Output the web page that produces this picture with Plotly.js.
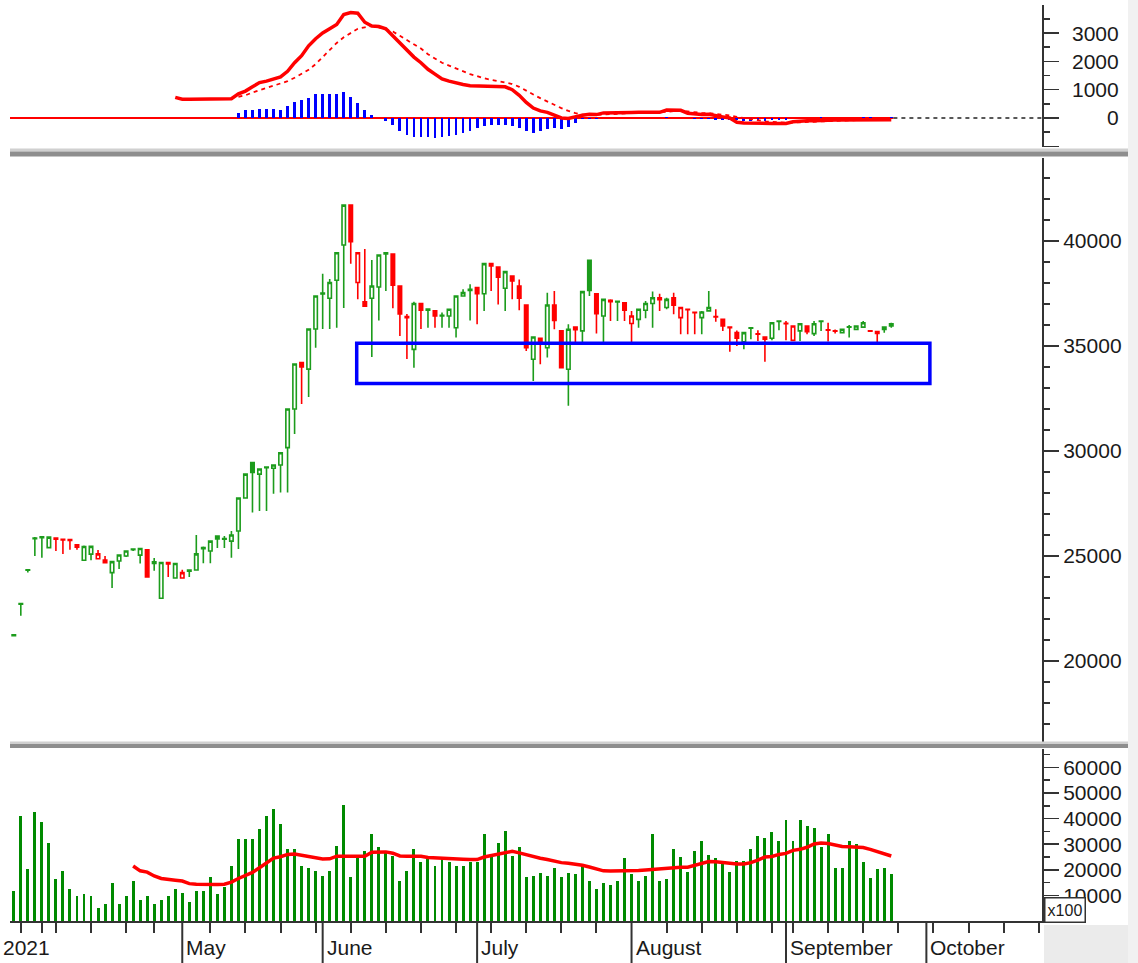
<!DOCTYPE html>
<html><head><meta charset="utf-8">
<script src="https://cdn.plot.ly/plotly-3.0.1.min.js"></script>
<style>html,body{margin:0;padding:0;background:#fff;}#chart{width:1138px;height:963px;}</style>
</head><body><div id="chart"></div>
<script>
// ---- data (trading-day index 0 = first session shown, late March 2021) ----
const openP  = [21200,22700,24320,25820,25920,25400,25850,25800,25780,25530,24800,25090,24870,24810,24210,24760,25000,25300,25040,25290,24720,22990,24690,23950,23950,24280,24330,25350,25240,25950,25800,25710,26190,27760,29450,28900,29200,29180,29330,30160,32000,34210,33900,35810,37480,37270,38130,39810,41710,38020,37110,37270,37810,39440,39380,37860,36400,34840,37020,36700,36670,36430,36430,35870,37380,37650,37780,37490,38920,38760,37750,38330,37860,36950,34370,35370,34920,36950,35720,33890,35900,35720,39080,37490,36430,37180,37100,37060,36070,36270,36700,37020,37300,36830,37300,36350,36750,36600,36350,36670,36400,36270,35900,35635,35200,35850,35580,35430,35370,36170,36080,35270,35720,35950,35590,36170,35770,35720,35630,35890,35790,35900,35720,35690,35900,36060];
const highP  = [21250,22730,24340,25900,25920,25900,25850,25800,25790,25530,25500,25460,25290,25000,24730,25050,25240,25350,25380,25290,24900,24690,24690,24640,24350,24330,26000,25450,25710,25950,25950,26190,27760,28900,29450,29140,29240,29330,29920,32000,34140,34210,35810,37380,38440,38190,39440,41710,41710,39440,39620,39090,39330,39440,39380,37860,36520,37110,37020,36760,36670,36590,36750,37380,37700,37940,37780,38920,38920,38760,38540,38330,38170,36950,35430,35370,37540,37620,35720,36030,35900,37590,39080,37490,37220,37220,37130,37060,36670,36750,37140,37590,37490,37300,37540,36830,36750,36600,36670,37620,36750,36270,35900,35740,35635,35870,35750,35430,36110,36190,36190,35950,36060,35950,36190,36190,36110,35790,35790,36000,35950,36190,35720,35720,35900,36110];
const lowP   = [21200,22150,24210,25000,24920,25400,25240,25100,25300,25300,24800,24800,24870,24680,23480,24380,24950,25240,24640,24000,24300,22990,24000,23950,23950,24000,24330,24650,24650,25380,25380,24920,25330,27760,27070,27140,27140,27960,28020,28020,30810,32240,32570,34920,35810,35810,35870,36810,38920,37220,36900,34480,36220,37620,36800,35480,34380,33970,35810,35870,35870,35870,35870,35400,37380,36220,36030,36670,37620,36980,36670,37220,36700,34760,33330,34130,34450,35800,33970,32150,35080,35160,37380,35590,35160,36190,36190,36190,35160,35870,36320,35870,36670,36750,36510,35560,35560,35560,35560,36670,36160,35720,34730,35000,34840,35320,35240,34255,35270,35750,35270,35270,35240,35560,35480,35720,35210,35590,35630,35400,35790,35900,35680,35160,35630,35870];
const closeP = [21250,22730,24340,25850,25870,25900,25800,25760,25740,25420,25450,25460,25100,24680,24730,25050,25240,25330,25360,24000,24650,24690,24620,24640,24210,24330,25100,25400,25710,25810,25830,26000,27760,28900,28980,29140,29240,29330,29920,32000,34140,34000,35810,37380,37520,38020,39440,41710,39970,39440,36900,37860,39330,39380,37900,36520,36350,37020,36710,36760,36430,36460,36750,37380,37540,37700,37490,38920,38810,38280,38540,38100,37270,34920,35430,35160,36950,36220,33970,35800,35780,37590,37650,36540,37220,37110,37130,36700,36430,36750,37020,37300,37200,37220,36940,36830,36730,36590,36620,36830,36380,35950,35870,35370,35635,35870,35560,35320,36110,36190,36060,35950,36060,35680,36060,36190,35750,35700,35790,35910,35950,36110,35700,35600,35790,35950];
// volume, shown in units of 100 shares
const volume = [11770,40890,20260,42410,38610,30380,16460,19370,12660,9750,10380,9750,5060,6710,14810,6710,9750,15570,8230,9750,6710,8230,9750,12660,11010,7340,11770,11770,17090,10380,13290,21520,32030,32030,32030,35830,40890,43680,37980,28230,28230,21520,20890,19370,17720,19370,29120,45320,17090,24690,27470,34180,28740,27470,25320,15570,19370,28230,23170,24050,21520,24050,23170,21520,21520,23170,23170,34180,25950,30380,35070,25320,28740,17090,17720,18610,17720,20890,17090,18610,18480,21400,15450,12530,14690,14180,15450,24560,18480,15450,17600,34060,15450,16330,28110,25190,19240,27350,31140,25830,24560,22280,19240,23550,23550,28110,33170,32410,34940,31140,39370,31140,39370,37220,36210,28990,34060,20760,20760,31140,30260,23040,16960,20130,20760,18480];
const N = null;
const volumeMA = [N,N,N,N,N,N,N,N,N,N,N,N,N,N,N,N,N,21500,19600,19100,17600,16600,16100,15900,15600,14600,14400,14300,14300,14300,14400,15200,16600,17800,19000,20800,22500,24600,25100,26000,26200,25700,25400,24800,24200,24300,25300,25300,25300,25300,25300,26900,27000,27000,26500,25400,25300,25300,25300,24800,24600,24500,24400,24200,24100,24000,24000,25000,25500,26100,26800,27200,26600,25800,25200,24500,24000,23400,22800,22600,22300,21800,21100,20300,19600,19500,19500,19500,19500,19700,19900,20100,20500,20800,21000,21000,21000,21700,22500,23200,23100,22800,22400,22300,22300,22800,23800,25000,25200,26000,26400,27600,28000,28800,30100,30500,30300,29600,29100,29000,29000,28700,28000,27100,26400,25400];
const macd = [N,N,N,N,N,N,N,N,N,N,N,N,N,N,N,N,N,N,N,N,N,N,N,730,660,660,660,660,660,660,660,680,850,950,1100,1250,1300,1380,1450,1650,1950,2200,2550,2800,3000,3150,3300,3650,3720,3700,3380,3250,3230,3150,2900,2660,2400,2150,1950,1720,1550,1380,1300,1230,1180,1140,1130,1130,1130,1130,1100,1000,800,550,350,250,200,100,0,-20,50,100,130,120,180,190,190,195,195,200,200,200,200,280,280,270,170,130,120,130,100,40,0,-150,-180,-190,-190,-190,-190,-190,-190,-130,-100,-100,-100,-80,-80,-75,-75,-70,-70,-65,-70,-70,-65,-60];
const signal = [N,N,N,N,N,N,N,N,N,N,N,N,N,N,N,N,N,N,N,N,N,N,N,N,N,N,N,N,N,N,N,N,750,800,900,980,1050,1120,1200,1300,1420,1560,1700,1900,2150,2400,2650,2850,3000,3150,3200,3250,3200,3120,3050,2900,2750,2600,2450,2250,2100,1950,1850,1750,1650,1550,1480,1400,1350,1300,1250,1200,1100,950,830,700,580,450,350,250,170,120,110,110,120,140,160,170,180,185,190,190,200,220,240,250,230,200,180,170,150,120,90,40,0,-50,-90,-120,-140,-160,-170,-160,-150,-130,-120,-100,-95,-90,-85,-80,-75,-72,-70,-68,-66,-64];
const histogram = [N,N,N,N,N,N,N,N,N,N,N,N,N,N,N,N,N,N,N,N,N,N,N,N,N,N,N,N,N,N,N,N,170,300,300,330,330,330,280,420,575,635,700,835,835,835,835,920,750,540,280,100,0,-100,-250,-450,-600,-660,-660,-660,-720,-660,-640,-600,-520,-450,-360,-290,-250,-250,-250,-290,-360,-450,-530,-470,-390,-360,-400,-330,-170,-50,-40,-40,0,0,0,0,0,0,0,0,0,40,0,0,0,-40,-50,-50,-60,-70,-70,-80,-100,-100,-100,-100,-80,-80,-60,0,0,0,0,40,0,0,0,0,0,40,40,0,0,40];
const monthLabels = ['May','June','July','August','September','October'];
const monthStarts = [24,44,66,88,110,130];
const weekTicks = [1,4,6,11,16,20,28,33,38,43,48,53,58,63,68,73,78,83,93,98,103,108,111,116,121,126,131,136,141,146];
const macdTickLabels = [0,1000,2000,3000];

// ---- build ----
const days = closeP.map((_, i) => i);
const upIdx = [], dnIdx = [];
closeP.forEach((c, i) => { (i === 0 || c >= closeP[i-1]) ? upIdx.push(i) : dnIdx.push(i); });
const pick = (a, idx) => idx.map(i => a[i]);

const GREEN = '#1c9c1c', RED = '#ff0000', VOLG = '#008a00';
const FONT = 'Liberation Sans, Arial, sans-serif';
function candle(idx, col) {
  return {type:'candlestick', xaxis:'x', yaxis:'y2',
    x: pick(days, idx), open: pick(openP, idx), high: pick(highP, idx), low: pick(lowP, idx), close: pick(closeP, idx),
    increasing:{line:{color:col, width:1.6}, fillcolor:'#ffffff'},
    decreasing:{line:{color:col, width:1.6}, fillcolor:col},
    whiskerwidth:0, hoverinfo:'skip', showlegend:false};
}
const traces = [
  {type:'bar', x:days, y:histogram, xaxis:'x', yaxis:'y', marker:{color:'#0000ff'}, width:0.4, hoverinfo:'skip', showlegend:false},
  {type:'scatter', mode:'lines', x:days, y:signal, xaxis:'x', yaxis:'y', line:{color:RED, width:1.8, dash:'4px,4px'}, hoverinfo:'skip', showlegend:false},
  {type:'scatter', mode:'lines', x:days, y:macd, xaxis:'x', yaxis:'y', line:{color:RED, width:3.5}, hoverinfo:'skip', showlegend:false},
  candle(upIdx, GREEN),
  candle(dnIdx, RED),
  {type:'bar', x:days, y:volume, xaxis:'x', yaxis:'y3', marker:{color:VOLG}, width:0.42, hoverinfo:'skip', showlegend:false},
  {type:'scatter', mode:'lines', x:days, y:volumeMA, xaxis:'x', yaxis:'y3', line:{color:RED, width:3.5}, hoverinfo:'skip', showlegend:false}
];

const H = 921; // plot height in px (t=0)
const py = p => (H - p) / H;           // pixel row -> paper y
const px = p => (p - 10) / 1032;       // pixel col -> paper x
const XMIN = -0.54, XMAX = 146.47;
const axCol = '#333333', txtCol = '#1a1a1a';
const yBase = {side:'right', anchor:'x', showline:true, linecolor:axCol, linewidth:2, ticks:'outside', ticklen:15, tickwidth:1.6, tickcolor:axCol,
  showgrid:false, zeroline:false, fixedrange:true, tickfont:{family:FONT, size:21, color:txtCol}};

const shapes = [];
// separators between panels
[[148.5,151.5,'#d0d0d0'],[151.5,156.5,'#8e8e8e'],[741.5,744,'#d0d0d0'],[744,748,'#8e8e8e']].forEach(s => {
  shapes.push({type:'rect', xref:'paper', yref:'paper', x0:0, x1:px(1128), y0:py(s[0]), y1:py(s[1]), fillcolor:s[2], line:{width:0}});
});
// right strip & corner box
shapes.push({type:'rect', xref:'paper', yref:'paper', x0:px(1128), x1:px(1140), y0:py(965), y1:py(-2), fillcolor:'#f1f1f1', line:{width:0}});
shapes.push({type:'rect', xref:'paper', yref:'paper', x0:px(1044), x1:px(1128), y0:py(925), y1:py(965), fillcolor:'#ebebeb', line:{width:0}});
// month boundary lines
monthStarts.forEach(m => shapes.push({type:'line', xref:'x', yref:'paper', x0:m, x1:m, y0:py(921), y1:py(963), line:{color:axCol, width:2}}));
// MACD zero line
shapes.push({type:'line', xref:'x', yref:'y', x0:XMIN, x1:days.length - 0.7, y0:0, y1:0, line:{color:RED, width:1.8}, layer:'below'});
shapes.push({type:'line', xref:'x', yref:'y', x0:days.length - 0.7, x1:XMAX, y0:0, y1:0, line:{color:'#222', width:1.5, dash:'4px,4px'}, layer:'below'});
// support zone box
shapes.push({type:'rect', xref:'x', yref:'y2', x0:48.85, x1:130.5, y0:33210, y1:35130, line:{color:'#0000ff', width:3.5}, fillcolor:'rgba(0,0,0,0)'});

const annotations = [];
macdTickLabels.forEach(v => annotations.push({xref:'paper', yref:'y', x:px(1121), y:v, xanchor:'right', yanchor:'middle', text:String(v), showarrow:false, font:{family:FONT, size:21, color:txtCol}}));
monthLabels.forEach((t, i) => annotations.push({xref:'x', yref:'paper', x:monthStarts[i], xshift:2, y:py(947), xanchor:'left', yanchor:'middle', text:t, showarrow:false, font:{family:FONT, size:21, color:txtCol}}));
annotations.push({xref:'paper', yref:'paper', x:px(1), y:py(947), xanchor:'left', yanchor:'middle', text:'2021', showarrow:false, font:{family:FONT, size:21, color:txtCol}});
annotations.push({xref:'paper', yref:'paper', x:px(1044), y:py(923), xanchor:'left', yanchor:'bottom', text:'x100', showarrow:false, width:37, height:21, bgcolor:'#ffffff', bordercolor:'#333', borderwidth:1.5, borderpad:1, font:{family:FONT, size:16, color:txtCol}});

const layout = {
  width:1138, height:963, autosize:false,
  margin:{l:10, r:96, t:0, b:42},
  paper_bgcolor:'#ffffff', plot_bgcolor:'#ffffff',
  showlegend:false, bargap:0, barmode:'overlay',
  xaxis:{domain:[0,1], range:[XMIN, XMAX], anchor:'y3', showline:true, linecolor:axCol, linewidth:2,
    ticks:'outside', tickmode:'array', tickvals:weekTicks, ticklen:10, tickwidth:2, tickcolor:axCol,
    showticklabels:false, showgrid:false, zeroline:false, fixedrange:true, rangeslider:{visible:false}},
  yaxis: Object.assign({}, yBase, {domain:[py(147), py(5)], range:[-1024, 3989], tickmode:'array', tickvals:[-1000,0,1000,2000,3000], showticklabels:false,
    minor:{tickmode:'array', tickvals:[-500,500,1500,2500,3500], ticks:'outside', ticklen:6, tickwidth:1.6, tickcolor:axCol}}),
  yaxis2: Object.assign({}, yBase, {domain:[py(742), py(158)], range:[16143, 43952], tickmode:'linear', tick0:0, dtick:5000, tickformat:'d',
    minor:{tickmode:'linear', tick0:0, dtick:1000, ticks:'outside', ticklen:6, tickwidth:1.6, tickcolor:axCol}}),
  yaxis3: Object.assign({}, yBase, {domain:[0, py(749)], range:[0, 67190], tickmode:'array', tickvals:[0,10000,20000,30000,40000,50000,60000],
    ticktext:['','10000','20000','30000','40000','50000','60000'],
    minor:{tickmode:'linear', tick0:0, dtick:5000, ticks:'outside', ticklen:6, tickwidth:1.6, tickcolor:axCol}}),
  shapes: shapes, annotations: annotations
};
Plotly.newPlot('chart', traces, layout, {displayModeBar:false, staticPlot:true});
</script></body></html>
